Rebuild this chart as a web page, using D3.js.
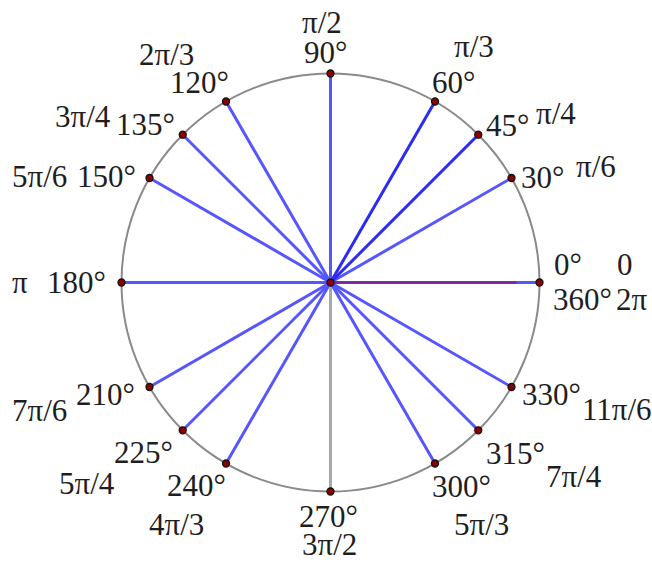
<!DOCTYPE html>
<html>
<head>
<meta charset="utf-8">
<script src="https://cdn.jsdelivr.net/npm/d3@7"></script>
<style>
  html, body { margin: 0; padding: 0; background: #fff; }
</style>
</head>
<body>
<div id="chart"></div>
<script>
// Ángulos del círculo unitario (grados) y sus etiquetas
const angles = [0, 30, 45, 60, 90, 120, 135, 150, 180, 210, 225, 240, 270, 300, 315, 330];
const degreeLabels = ["0°", "30°", "45°", "60°", "90°", "120°", "135°", "150°", "180°", "210°", "225°", "240°", "270°", "300°", "315°", "330°"];
const radianLabels = ["0", "π/6", "π/4", "π/3", "π/2", "2π/3", "3π/4", "5π/6", "π", "7π/6", "5π/4", "4π/3", "3π/2", "5π/3", "7π/4", "11π/6"];
const extraDegree = "360°";
const extraRadian = "2π";

// Dimensiones
const width = 652, height = 566;
const cx = 330.5, cy = 282.5, radius = 209;

// Desplazamiento de cada etiqueta respecto a su punto: [gradosDx, gradosDy, radDx, radDy]
const labelOffsets = {
  0:   [14.5, -7.5, 77.5, -7.5],
  30:  [9.5, 10, 64.5, -1],
  45:  [7.7, 1.3, 57.7, -10.7],
  60:  [-3, -8.5, 19, -44.5],
  90:  [-26.5, -10.5, -28.5, -40.5],
  120: [-56, -8.5, -87, -36.5],
  135: [-66.7, 0.3, -127.7, -7.7],
  150: [-72.5, 9, -137.5, 9],
  180: [-74.5, 10.5, -109.5, 10.5],
  210: [-73.5, 18, -137.5, 34],
  225: [-68.7, 32.7, -123.7, 63.7],
  240: [-59, 32.5, -77, 71.5],
  270: [-31.5, 35.5, -28.5, 63.5],
  300: [-3, 33.5, 19, 71.5],
  315: [7.7, 33.7, 67.7, 56.7],
  330: [10.5, 18, 70.5, 33]
};

const svg = d3.select("#chart")
  .append("svg")
  .attr("width", width)
  .attr("height", height);

// Escalas: x e y lineales sobre el círculo unitario
const x = d3.scaleLinear().domain([-1, 1]).range([cx - radius, cx + radius]);
const y = d3.scaleLinear().domain([-1, 1]).range([cy + radius, cy - radius]);
const toRad = d3.scaleLinear().domain([0, 180]).range([0, Math.PI]);

const pts = angles.map((a, i) => ({
  angle: a,
  px: x(Math.cos(toRad(a))),
  py: y(Math.sin(toRad(a))),
  deg: degreeLabels[i],
  rad: radianLabels[i]
}));

// Circunferencia
svg.append("circle")
  .attr("cx", x(0))
  .attr("cy", y(0))
  .attr("r", x(1) - x(0))
  .attr("fill", "none")
  .attr("stroke", "#8a8a8a")
  .attr("stroke-width", 2);

// Color de cada radio
function lineColor(a) {
  if (a === 270) return "#a8a8a8";
  if (a === 45 || a === 60) return "#2b2bf2";
  return "#5656ff";
}

svg.selectAll(".radio")
  .data(pts)
  .enter()
  .append("line")
  .attr("class", "radio")
  .attr("x1", x(0))
  .attr("y1", y(0))
  .attr("x2", d => d.px)
  .attr("y2", d => d.py)
  .attr("stroke", d => lineColor(d.angle))
  .attr("stroke-width", 3);

// Tramo morado sobre el radio de 0°
svg.append("line")
  .attr("x1", x(0))
  .attr("y1", y(0))
  .attr("x2", x(0.89))
  .attr("y2", y(0))
  .attr("stroke", "#7d2aa8")
  .attr("stroke-width", 3);

// Puntos
svg.selectAll(".punto")
  .data(pts)
  .enter()
  .append("circle")
  .attr("class", "punto")
  .attr("cx", d => d.px)
  .attr("cy", d => d.py)
  .attr("r", 3.5)
  .attr("fill", "#8b0000")
  .attr("stroke", "#111")
  .attr("stroke-width", 1.3);

svg.append("circle")
  .attr("cx", x(0))
  .attr("cy", y(0))
  .attr("r", 3.5)
  .attr("fill", "#8b0000")
  .attr("stroke", "#111")
  .attr("stroke-width", 1.3);

// Etiquetas
const fontSize = 31;
function label(px, py, txt) {
  svg.append("text")
    .attr("x", px)
    .attr("y", py)
    .attr("font-family", "Liberation Serif")
    .attr("font-size", fontSize)
    .attr("fill", "#1e1e1e")
    .text(txt);
}
pts.forEach(d => {
  const o = labelOffsets[d.angle];
  label(d.px + o[0], d.py + o[1], d.deg);
  label(d.px + o[2], d.py + o[3], d.rad);
});

// 360° y 2π bajo el punto de 0°
const p0 = pts[0];
label(p0.px + 13.5, p0.py + 27.5, extraDegree);
label(p0.px + 76.5, p0.py + 27.5, extraRadian);
</script>
</body>
</html>
